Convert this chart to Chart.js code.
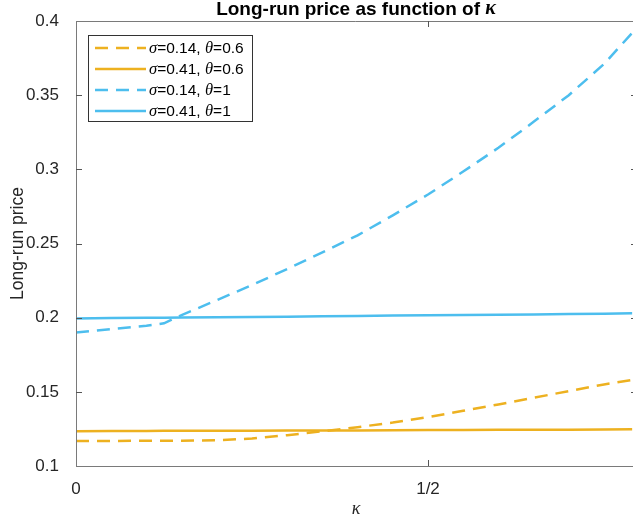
<!DOCTYPE html>
<html>
<head>
<meta charset="utf-8">
<script src="https://cdn.jsdelivr.net/npm/chart.js@4/dist/chart.umd.min.js"></script>
<style>
html,body{margin:0;padding:0;background:#fff;overflow:hidden;}
#wrap{width:633px;height:519px;position:relative;}
</style>
</head>
<body>
<div id="wrap"><canvas id="c" width="633" height="519"></canvas></div>
<script>
// ---- data ----
const kappa = [0, 0.05, 0.1, 0.125, 0.15, 0.2, 0.25, 0.3, 0.35, 0.4, 0.45, 0.5, 0.55, 0.6, 0.65, 0.7, 0.75, 0.79];
const priceS014T06 = [0.1168, 0.1169, 0.1170, 0.1170, 0.1171, 0.1174, 0.1185, 0.1208, 0.1234, 0.1262, 0.1293, 0.1330, 0.1372, 0.1415, 0.1460, 0.1505, 0.1550, 0.1580];
const priceS041T06 = [0.1235, 0.1236, 0.1236, 0.1237, 0.1237, 0.1238, 0.1238, 0.1239, 0.1240, 0.1240, 0.1241, 0.1242, 0.1243, 0.1244, 0.1244, 0.1245, 0.1246, 0.1247];
const priceS014T1  = [0.1900, 0.1922, 0.1945, 0.1962, 0.2017, 0.2118, 0.2220, 0.2328, 0.2440, 0.2555, 0.2690, 0.2830, 0.2985, 0.3145, 0.3320, 0.3500, 0.3710, 0.3920];
const priceS041T1  = [0.1995, 0.1997, 0.1999, 0.2000, 0.2001, 0.2003, 0.2005, 0.2007, 0.2009, 0.2011, 0.2014, 0.2016, 0.2018, 0.2020, 0.2022, 0.2024, 0.2027, 0.2029];
const xTicks = [0, 0.5];
const xTickLabels = ['0', '1/2'];
const yTicks = [0.1, 0.15, 0.2, 0.25, 0.3, 0.35, 0.4];
const seriesNames = [
  ['σ', '=0.14, ', 'θ', '=0.6'],
  ['σ', '=0.41, ', 'θ', '=0.6'],
  ['σ', '=0.14, ', 'θ', '=1'],
  ['σ', '=0.41, ', 'θ', '=1']
];

const ORANGE = '#EDB120', BLUE = '#4DBEEE';
const SANS = '"Liberation Sans", Arial, sans-serif';
const SERIF = '"Liberation Serif", "Times New Roman", serif';
const DASH = [13, 8];

function pts(arr){ return kappa.map((k,i)=>({x:k, y:arr[i]})); }

const datasets = [
  {label:'s014t06', data:pts(priceS014T06), borderColor:ORANGE, borderDash:DASH},
  {label:'s041t06', data:pts(priceS041T06), borderColor:ORANGE, borderDash:[]},
  {label:'s014t1',  data:pts(priceS014T1),  borderColor:BLUE,   borderDash:DASH},
  {label:'s041t1',  data:pts(priceS041T1),  borderColor:BLUE,   borderDash:[]}
].map(d=>Object.assign(d,{borderWidth:2.5, pointRadius:0, fill:false, tension:0}));

function drawMixed(ctx, parts, x, y, size){
  let cx = x;
  parts.forEach((p,i)=>{
    ctx.font = (i%2===0) ? ('italic ' + (size+1) + 'px ' + SERIF) : (size + 'px ' + SANS);
    ctx.fillText(p, cx, y);
    cx += ctx.measureText(p).width;
  });
  return cx;
}

const decor = {
  id:'decor',
  afterDraw(chart){
    const ctx = chart.ctx, a = chart.chartArea;
    const xs = chart.scales.x, ys = chart.scales.y;
    ctx.save();
    // axes box
    ctx.strokeStyle = '#7a7a7a';
    ctx.lineWidth = 1;
    ctx.beginPath();
    ctx.moveTo(a.left+0.5, a.top+0.5); ctx.lineTo(a.right+5, a.top+0.5);
    ctx.moveTo(a.left+0.5, a.top); ctx.lineTo(a.left+0.5, a.bottom+0.5);
    ctx.moveTo(a.left, a.bottom+0.5); ctx.lineTo(a.right+5, a.bottom+0.5);
    ctx.stroke();
    // ticks
    ctx.strokeStyle = '#555';
    ctx.beginPath();
    xTicks.forEach(v=>{
      const px = Math.round(xs.getPixelForValue(v))+0.5;
      if (v===0) return;
      ctx.moveTo(px, a.bottom); ctx.lineTo(px, a.bottom-6);
      ctx.moveTo(px, a.top); ctx.lineTo(px, a.top+6);
    });
    yTicks.forEach(v=>{
      const py = Math.round(ys.getPixelForValue(v))+0.5;
      if (v===0.1 || v===0.4) return;
      ctx.moveTo(a.left, py); ctx.lineTo(a.left+6, py);
      ctx.moveTo(a.right, py); ctx.lineTo(a.right-2, py);
    });
    ctx.stroke();
    // title
    ctx.fillStyle = '#000';
    ctx.textBaseline = 'middle';
    ctx.textAlign = 'left';
    const tText = 'Long-run price as function of ';
    ctx.font = 'bold 19px ' + SANS;
    const w1 = ctx.measureText(tText).width;
    ctx.font = 'bold italic 20px ' + SERIF;
    const w2 = ctx.measureText('κ').width;
    const tx = (a.left + 636)/2 - (w1+w2)/2;
    ctx.font = 'bold 19px ' + SANS;
    ctx.fillText(tText, tx, 10);
    ctx.font = 'bold italic 20px ' + SERIF;
    ctx.fillText('κ', tx + w1, 9);
    // x label
    ctx.fillStyle = '#262626';
    ctx.font = 'italic 18px ' + SERIF;
    ctx.textAlign = 'center';
    ctx.fillText('κ', 356, 509);
    // legend
    const L = {x:88.5, y:35.5, w:164, h:86};
    ctx.fillStyle = '#fff';
    ctx.fillRect(L.x, L.y, L.w, L.h);
    ctx.strokeStyle = '#333';
    ctx.lineWidth = 1;
    ctx.strokeRect(L.x, L.y, L.w, L.h);
    const rows = [48, 69, 90, 111];
    chart.data.datasets.forEach((d,i)=>{
      const yy = rows[i];
      ctx.strokeStyle = d.borderColor;
      ctx.lineWidth = 2.5;
      ctx.setLineDash(d.borderDash);
      ctx.beginPath(); ctx.moveTo(95, yy); ctx.lineTo(146, yy); ctx.stroke();
      ctx.setLineDash([]);
      ctx.fillStyle = '#000';
      ctx.textAlign = 'left';
      ctx.textBaseline = 'middle';
      drawMixed(ctx, seriesNames[i], 149, yy+1, 15.5);
    });
    ctx.restore();
  }
};

new Chart(document.getElementById('c'), {
  type:'line',
  data:{datasets},
  plugins:[decor],
  options:{
    responsive:false,
    animation:false,
    layout:{padding:{left:0, right:0, top:21, bottom:0}},
    plugins:{legend:{display:false}, title:{display:false}, tooltip:{enabled:false}},
    scales:{
      x:{
        type:'linear', min:0, max:557/704,
        border:{display:false},
        grid:{display:false},
        afterBuildTicks(s){ s.ticks = xTicks.map(v=>({value:v})); },
        ticks:{
          autoSkip:false, maxRotation:0, padding:5, color:'#262626',
          font:{family:SANS, size:17},
          callback(v){ const i = xTicks.indexOf(v); return i>=0 ? xTickLabels[i] : ''; }
        },
        afterFit(s){ s.height = 53; }
      },
      y:{
        type:'linear', min:0.1, max:0.4,
        border:{display:false},
        grid:{display:false},
        afterBuildTicks(s){ s.ticks = yTicks.map(v=>({value:v})); },
        ticks:{
          padding:9, color:'#262626',
          font:{family:SANS, size:17},
          callback(v){ return String(+v.toFixed(2)); }
        },
        title:{display:true, text:'Long-run price', color:'#262626', font:{family:SANS, size:17.5}, padding:{top:8,bottom:0}},
        afterFit(s){ s.width = 76; }
      }
    }
  }
});
</script>
</body>
</html>
